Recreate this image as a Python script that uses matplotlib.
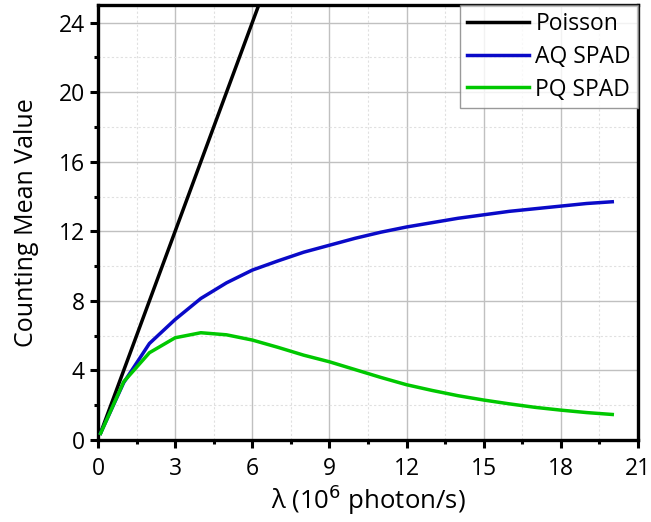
import matplotlib.pyplot as plt
from matplotlib.ticker import MultipleLocator

plt.rcParams['font.family'] = ['Open Sans', 'DejaVu Sans']

# Data
lam = [0.1, 1, 2, 3, 4, 5, 6, 7, 8, 9, 10, 11, 12, 13, 14, 15, 16, 17, 18, 19, 20]
poisson = [0.4, 4, 8, 12, 16, 20, 24, 28, 32, 36, 40, 44, 48, 52, 56, 60, 64, 68, 72, 76, 80]
aq_spad = [0.39, 3.3, 5.55, 6.93, 8.14, 9.04, 9.77, 10.3, 10.8, 11.2, 11.6, 11.95,
           12.25, 12.5, 12.75, 12.95, 13.15, 13.3, 13.45, 13.6, 13.7]
pq_spad = [0.38, 3.35, 5.02, 5.88, 6.17, 6.05, 5.75, 5.33, 4.88, 4.5, 4.05, 3.6,
           3.18, 2.85, 2.55, 2.3, 2.08, 1.88, 1.72, 1.58, 1.47]

fig = plt.figure(figsize=(6.51, 5.22), dpi=100)
ax = fig.add_axes([0.1505, 0.157, 0.8295, 0.833])

ax.plot(lam, poisson, color="black", lw=2.5, label="Poisson", zorder=3)
ax.plot(lam, aq_spad, color="#0a0ac8", lw=2.5, label="AQ SPAD", zorder=3)
ax.plot(lam, pq_spad, color="#00c800", lw=2.5, label="PQ SPAD", zorder=3)

ax.set_xlim(0, 21)
ax.set_ylim(0, 25)
ax.xaxis.set_major_locator(MultipleLocator(3))
ax.xaxis.set_minor_locator(MultipleLocator(1.5))
ax.yaxis.set_major_locator(MultipleLocator(4))
ax.yaxis.set_minor_locator(MultipleLocator(2))

ax.grid(which="major", color="#c0c0c0", lw=1.0, ls="-")
ax.grid(which="minor", color="#e0e0e0", lw=0.8, ls=(0, (2, 2)))
ax.set_axisbelow(True)

for s in ax.spines.values():
    s.set_linewidth(2.4)
ax.tick_params(which="major", direction="out", length=6, width=2.2, labelsize=16.5)
ax.tick_params(axis="x", which="major", pad=6)
ax.tick_params(which="minor", direction="out", length=3, width=2.2)

ax.set_xlabel("λ (10$^{6}$ photon/s)", fontsize=18.5, labelpad=1)
ax.set_ylabel("Counting Mean Value", fontsize=18, labelpad=14)

leg = ax.legend(loc="upper right", fontsize=16.5, frameon=True, fancybox=False,
                edgecolor="#808080", borderaxespad=0, handlelength=2.7,
                handletextpad=0.3, borderpad=0.3, labelspacing=0.38)
leg.get_frame().set_linewidth(1.0)

plt.savefig("out.png", dpi=100)
